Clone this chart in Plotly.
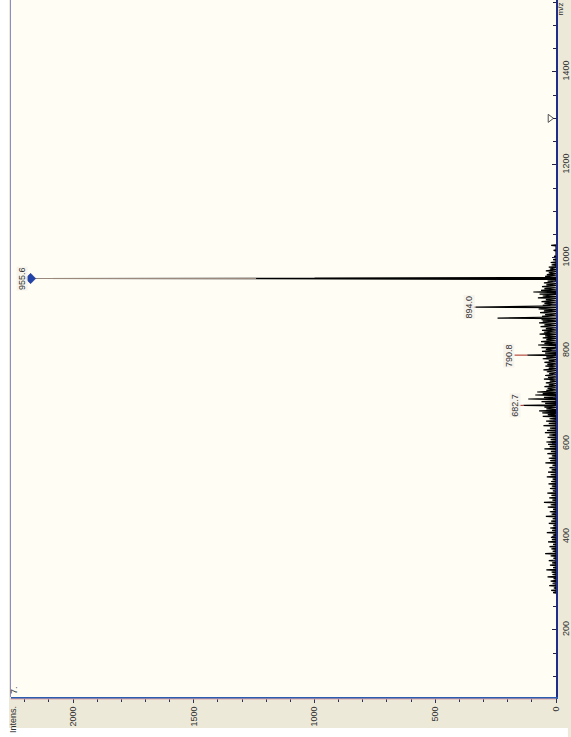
import plotly.graph_objects as go

# ---- spectrum data: m/z of each signal and its intensity (a.u.) ----
peak_mz = [
    280, 285, 290, 295, 300, 305, 310, 314, 319, 324, 329, 334, 339, 344, 349,
    354, 359, 364, 369, 374, 379, 384, 389, 394, 399, 404, 409, 414, 419, 424,
    429, 434, 439, 444, 449, 454, 459, 464, 469, 474, 479, 484, 489, 494, 499,
    504, 509, 514, 519, 524, 529, 534, 539, 544, 549, 554, 559, 564, 569, 574,
    579, 584, 589, 594, 599, 604, 609, 614, 619, 624, 629, 634, 639, 644, 649,
    654, 659, 663, 666.4, 670.7, 675, 679, 682.7, 687, 691, 696.5, 700, 705,
    708, 711.5, 715, 719, 723, 727, 731, 735, 739, 743, 747, 751, 755, 759,
    763, 767, 771, 775, 779, 783, 787, 790.8, 795, 799, 803, 807, 812.6, 816,
    820, 824, 828, 832, 836, 840, 844, 848, 852, 856, 860, 864, 867, 870.5,
    874, 878, 882, 886, 890, 894.0, 898, 902, 906, 910, 914, 918, 922, 926.6,
    930, 934, 938, 942, 946, 950, 954.9, 955.6, 956.3, 960, 964, 968, 972,
    976, 980, 985, 990, 996, 1003, 1016, 1027,
]
peak_int = [
    12, 20, 9, 28, 14, 22, 10, 35, 15, 18, 40, 12, 25, 16, 30,
    11, 22, 45, 14, 19, 27, 12, 33, 17, 21, 13, 38, 16, 24, 11,
    30, 20, 14, 42, 18, 26, 12, 34, 22, 50, 15, 28, 19, 36, 13,
    25, 17, 31, 20, 14, 38, 22, 33, 18, 27, 15, 44, 24, 30, 17,
    36, 21, 48, 26, 33, 40, 22, 35, 28, 46, 37, 25, 52, 30, 41,
    27, 55, 34, 57, 70, 40, 48, 135, 45, 60, 115, 50, 86,
    55, 78, 40, 35, 48, 30, 42, 26, 50, 33, 45, 28, 38, 52,
    30, 44, 36, 48, 30, 55, 40, 119, 45, 58, 42, 60, 74, 48,
    62, 40, 55, 45, 68, 50, 58, 42, 64, 48, 70, 55, 60, 242,
    58, 45, 66, 50, 72, 332, 55, 48, 60, 42, 75, 55, 68, 94,
    62, 48, 58, 40, 50, 35, 1242, 2176, 1000, 45, 38, 30, 42,
    25, 30, 18, 22, 12, 8, 10, 20,
]

# labelled peaks: m/z text, label intensity position, leader start/end intensity
label_mz = [955.6, 894.0, 790.8, 682.7]
label_text = ["955.6", "894.0", "790.8", "682.7"]
label_pos = [2209, 359, 195, 168]
leader_top = [2176, 352, 172, 156]
leader_bottom = [1242, 332, 119, 135]
leader_color = ["#9a8a7e", "#6a4a40", "#b03a2e", "#b03a2e"]

# marked compound peak and threshold marker
marker_mz = [955.6]
marker_int = [2176]
flag_mz = [1300]
flag_int = [25]

int_ticks = [0, 500, 1000, 1500, 2000]
mz_ticks = [200, 400, 600, 800, 1000, 1200, 1400]

FONT = "Liberation Sans Narrow, Arial Narrow, Liberation Sans, Arial"
TAN = "#ece9d8"

# profile: each signal drawn as a narrow triangle on the baseline
prof_x, prof_y = [], []
for m, i in sorted(zip(peak_mz, peak_int)):
    prof_y += [m - 1.2, m, m + 1.2]
    prof_x += [0, i, 0]

fig = go.Figure()

fig.add_trace(go.Scatter(
    x=prof_x, y=prof_y, mode="lines",
    line=dict(color="#000000", width=1.2),
    hoverinfo="skip", showlegend=False,
))

for m, t, b, c in zip(label_mz, leader_top, leader_bottom, leader_color):
    fig.add_trace(go.Scatter(
        x=[t, b], y=[m, m], mode="lines",
        line=dict(color=c, width=1.1),
        hoverinfo="skip", showlegend=False,
    ))

fig.add_trace(go.Scatter(
    x=marker_int, y=marker_mz, mode="markers",
    marker=dict(symbol="diamond", size=8, color="#2244a8",
                line=dict(color="#1a2f80", width=0.5)),
    hoverinfo="skip", showlegend=False,
))

fig.add_trace(go.Scatter(
    x=flag_int, y=flag_mz, mode="markers",
    marker=dict(symbol="triangle-right-open", size=7, color="#505050",
                line=dict(width=1)),
    hoverinfo="skip", showlegend=False,
))

for m, t, p in zip(label_mz, label_text, label_pos):
    fig.add_annotation(
        x=p, y=m, text=t, showarrow=False, textangle=-90,
        xanchor="center", yanchor="middle",
        font=dict(family=FONT, size=9, color="#303030"),
        bgcolor="rgba(245,243,235,0.9)", borderpad=0,
    )

W, H = 571, 737
ML, MR, MT, MB = 11, 10, 0, 40
PW, PH = W - ML - MR, H - MT - MB


def px_x(p):
    return (p - ML) / PW


def px_y(p):
    return (H - MB - p) / PH


# white page outside the beige frame (left strip and bottom strip)
fig.add_shape(type="rect", xref="paper", yref="paper",
              x0=px_x(-2), x1=px_x(9), y0=px_y(H + 2), y1=px_y(-2),
              fillcolor="#ffffff", line=dict(width=0), layer="below")
fig.add_shape(type="rect", xref="paper", yref="paper",
              x0=px_x(-2), x1=px_x(W + 2), y0=px_y(H + 2), y1=px_y(728),
              fillcolor="#ffffff", line=dict(width=0), layer="below")
# left border of the plot
fig.add_shape(type="line", xref="paper", yref="paper",
              x0=px_x(10.5), x1=px_x(10.5), y0=0, y1=1,
              line=dict(color="#8c8cc8", width=1))
# thin pink line under the intensity axis
fig.add_shape(type="line", xref="paper", yref="paper",
              x0=px_x(10.5), x1=1, y0=px_y(699), y1=px_y(699),
              line=dict(color="#e2a8a8", width=1))

fig.add_annotation(xref="paper", yref="paper", x=px_x(13), y=px_y(719),
                   xanchor="center", yanchor="middle",
                   text="Intens.", showarrow=False, textangle=-90,
                   font=dict(family=FONT, size=9, color="#303030"))
fig.add_annotation(xref="paper", yref="paper", x=px_x(14), y=px_y(690),
                   xanchor="center", yanchor="middle",
                   text="7.", showarrow=False, textangle=-90,
                   font=dict(family=FONT, size=9, color="#303030"))
fig.add_annotation(xref="paper", yref="paper", x=px_x(565.5), y=px_y(9),
                   xanchor="center", yanchor="middle",
                   text="m/z", showarrow=False, textangle=-90,
                   font=dict(family=FONT, size=8, color="#303030"))

fig.update_layout(
    width=W, height=H,
    margin=dict(l=ML, r=MR, t=MT, b=MB, pad=0),
    paper_bgcolor=TAN,
    plot_bgcolor="#fffdf4",
    showlegend=False,
    xaxis=dict(
        range=[2257, 0], showgrid=False, zeroline=False,
        tickmode="array", tickvals=int_ticks,
        ticktext=[str(v) for v in int_ticks],
        tickangle=-90, ticks="outside", ticklen=4, tickwidth=1,
        tickcolor="#303050",
        minor=dict(dtick=100, ticks="outside", ticklen=3,
                   tickcolor="#303050", showgrid=False),
        showline=True, linecolor="#2c5cb0", linewidth=2,
        tickfont=dict(family=FONT, size=9, color="#303030"),
    ),
    yaxis=dict(
        range=[55.6, 1554.5], side="right", showgrid=False, zeroline=False,
        tickmode="array", tickvals=mz_ticks,
        ticktext=[str(v) for v in mz_ticks],
        tickangle=-90, ticks="inside", ticklen=4, tickwidth=1,
        tickcolor="#202040",
        minor=dict(dtick=50, ticks="inside", ticklen=3,
                   tickcolor="#202040", showgrid=False),
        showline=True, linecolor="#1e2e88", linewidth=1.5,
        tickfont=dict(family=FONT, size=9, color="#303030"),
    ),
)

fig.write_html("out.html")
